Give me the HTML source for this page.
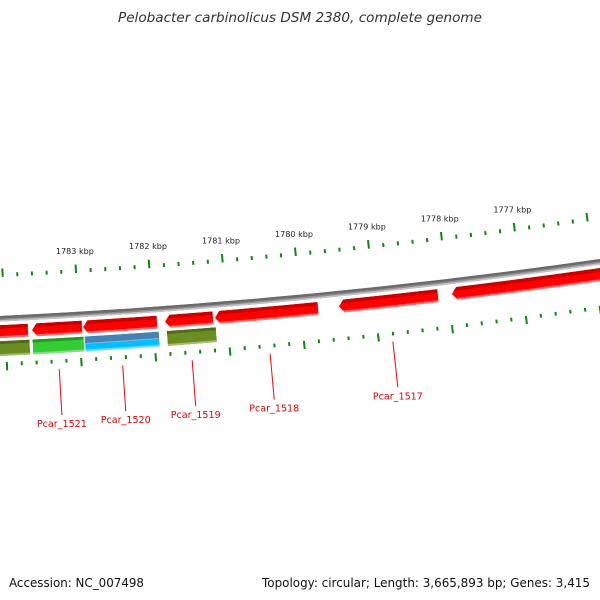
<!DOCTYPE html>
<html><head><meta charset="utf-8"><style>
html,body{margin:0;padding:0;background:#fff;width:600px;height:600px;overflow:hidden}
svg{display:block}
</style></head><body>
<svg id="map" width="600" height="600" viewBox="0 0 600 600" xmlns="http://www.w3.org/2000/svg">
<text x="300" y="22" text-anchor="middle" font-family="DejaVu Sans, Liberation Sans, sans-serif" font-style="italic" font-size="13" fill="#333" textLength="364" lengthAdjust="spacingAndGlyphs">Pelobacter carbinolicus DSM 2380, complete genome</text>
<text x="9" y="587" font-family="DejaVu Sans, Liberation Sans, sans-serif" font-size="12" fill="#111" textLength="135" lengthAdjust="spacingAndGlyphs">Accession: NC_007498</text>
<text x="590" y="587" text-anchor="end" font-family="DejaVu Sans, Liberation Sans, sans-serif" font-size="12" fill="#111" textLength="328" lengthAdjust="spacingAndGlyphs">Topology: circular; Length: 3,665,893 bp; Genes: 3,415</text>
<defs id="defs"></defs>
<g id="layer"></g>
</svg>
<script>
// ---- data ----
const redStart = [1783694, 1782964, 1781950, 1781192, 1779769, 1778141, 1774000];
const redEnd   = [1784900, 1783640, 1782950, 1781841, 1781165, 1779485, 1777951];
const cogStart = [1783680, 1782950, 1781936, 1781165];
const cogEnd   = [1784900, 1783640, 1782936, 1781827];
const cogKind  = ['olive', 'green', 'blue', 'olive'];
const labelNames = ['Pcar_1521', 'Pcar_1520', 'Pcar_1519', 'Pcar_1518', 'Pcar_1517'];
const labelBp    = [1783302, 1782450, 1781516, 1780467, 1778813];
const tickMin = 1774000, tickMax = 1785400, tickStep = 200, majorStep = 1000;

// ---- geometry ----
const CX = -304, CY = -6060.1;
const TH0 = 0.04836, RAD_PER_BP = 1.1581e-5, REF_BP = 1784000;
function ang(bp){ return TH0 + (REF_BP - bp) * RAD_PER_BP; }
function pt(r, t){ return [CX + r * Math.sin(t), CY + r * Math.cos(t)]; }
const NS = 'http://www.w3.org/2000/svg';
const layer = document.getElementById('layer');
const defs = document.getElementById('defs');
function mk(tag, attrs, parent){
  const e = document.createElementNS(NS, tag);
  for (const k in attrs) e.setAttribute(k, attrs[k]);
  (parent || layer).appendChild(e);
  return e;
}
function f(v){ return v.toFixed(2); }
function bandPath(t1, t2, rIn, rOut){
  const a = pt(rOut, t1), b = pt(rOut, t2), c = pt(rIn, t2), d = pt(rIn, t1);
  return `M${f(a[0])},${f(a[1])} A${rOut},${rOut} 0 0 0 ${f(b[0])},${f(b[1])} L${f(c[0])},${f(c[1])} A${rIn},${rIn} 0 0 1 ${f(d[0])},${f(d[1])} Z`;
}
function arrowPath(t1, t2, rIn, rOut, head){
  const rm = (rIn + rOut) / 2;
  const hb = t1 + head / rm;
  const tip = pt(rm, t1), a = pt(rOut, hb), b = pt(rOut, t2), c = pt(rIn, t2), d = pt(rIn, hb);
  return `M${f(tip[0])},${f(tip[1])} L${f(a[0])},${f(a[1])} A${rOut},${rOut} 0 0 0 ${f(b[0])},${f(b[1])} L${f(c[0])},${f(c[1])} A${rIn},${rIn} 0 0 1 ${f(d[0])},${f(d[1])} Z`;
}

// ---- backbone ----
const t0 = ang(tickMax), t9 = ang(tickMin);
let bb = mk('g', {});


mk('path', {d: bandPath(t0, t9, 6383.4, 6389), fill: '#8c8c8c'}, bb);
mk('path', {d: bandPath(t0, t9, 6383.4, 6385.8), fill: '#6a6a6a'}, bb);
mk('path', {d: bandPath(t0, t9, 6387.4, 6389), fill: '#c4c4c4'}, bb);

// ---- ticks ----
const tg = mk('g', {});


for (let bp = tickMin; bp <= tickMax; bp += tickStep) {
  const t = ang(bp);
  const major = bp % majorStep === 0;
  let a = pt(6344.5, t), b = pt(major ? 6336 : 6340.5, t);
  let l = mk('line', {x1: f(a[0]), y1: f(a[1]), x2: f(b[0]), y2: f(b[1]), stroke: '#0a8a0a', 'stroke-width': 2}, tg);
  
  
  a = pt(6429.7, t); b = pt(major ? 6438 : 6433.5, t);
  l = mk('line', {x1: f(a[0]), y1: f(a[1]), x2: f(b[0]), y2: f(b[1]), stroke: '#0a8a0a', 'stroke-width': 2}, tg);
  
  
  if (major) {
    const p = pt(6325.5, t);
    if (p[0] - 19 >= 0 && p[0] + 19 <= 600) {
      const tx = mk('text', {x: f(p[0]), y: f(p[1]), 'text-anchor': 'middle', 'font-family': 'DejaVu Sans, Liberation Sans, sans-serif', 'font-size': 8, fill: '#222', textLength: 38, lengthAdjust: 'spacingAndGlyphs'}, tg);
      tx.textContent = (bp / 1000) + ' kbp';
      
      
    }
  }
}

// ---- shaded feature ----
let clipId = 0;
function feature(shape, layers, name){
  const id = 'c' + (clipId++);
  const cp = mk('clipPath', {id: id}, defs);
  mk('path', {d: shape}, cp);
  const g = mk('g', {'clip-path': `url(#${id})`});
  
  
  layers.forEach(L => mk('path', {d: bandPath(L.t1, L.t2, L.rIn, L.rOut), fill: L.fill}, g));
}

// red gene arrows
const RI = 6392.4, RO = 6405.4;
for (let i = 0; i < redStart.length; i++) {
  const t1 = ang(redEnd[i]), t2 = ang(redStart[i]);
  const a = t1 - 0.001, b = t2 + 0.001;
  feature(arrowPath(t1, t2, RI, RO, 5), [
    {t1: a, t2: b, rIn: RI, rOut: RO, fill: '#ff0000'},
    {t1: a, t2: b, rIn: RI, rOut: RI + 3.5, fill: '#c80000'},
    {t1: a, t2: b, rIn: RO - 2, rOut: RO, fill: '#ff6a6a'}
  ], 'gene-arrow');
}

// COG category blocks
const GI = 6408.4, GO = 6423.4;
const pal = {
  olive: ['#6b8e23', '#50691a', '#a5bd6a'],
  green: ['#33cc33', '#229922', '#80e080'],
  blue:  ['#00bfff', '#4682b4', '#70d8ff']
};
for (let i = 0; i < cogStart.length; i++) {
  const t1 = ang(cogEnd[i]), t2 = ang(cogStart[i]);
  const c = pal[cogKind[i]];
  const L = [{t1, t2, rIn: GI, rOut: GO, fill: c[0]}];
  if (cogKind[i] === 'blue') {
    L.push({t1, t2, rIn: GI, rOut: GI + 7.5, fill: c[1]});
    L.push({t1, t2, rIn: GI + 6.5, rOut: GI + 7.5, fill: '#8fb6d6'});
  } else {
    L.push({t1, t2, rIn: GI, rOut: GI + 3, fill: c[1]});
  }
  L.push({t1, t2, rIn: GO - 2, rOut: GO, fill: c[2]});
  feature(bandPath(t1, t2, GI, GO), L, 'cog-block-' + cogKind[i]);
}

// ---- labels ----
for (let i = 0; i < labelNames.length; i++) {
  const t = ang(labelBp[i]);
  const a = pt(6439.5, t), b = pt(6485.5, t);
  const ln = mk('line', {x1: f(a[0]), y1: f(a[1]), x2: f(b[0]), y2: f(b[1]), stroke: '#ff0000', 'stroke-width': 1});
  
  
  const tx = mk('text', {x: f(b[0]), y: f(b[1] + 12), 'text-anchor': 'middle', 'font-family': 'DejaVu Sans, Liberation Sans, sans-serif', 'font-size': 10, fill: '#e00000', textLength: 50, lengthAdjust: 'spacingAndGlyphs'});
  tx.textContent = labelNames[i];
  
  
}
</script>
</body></html>
